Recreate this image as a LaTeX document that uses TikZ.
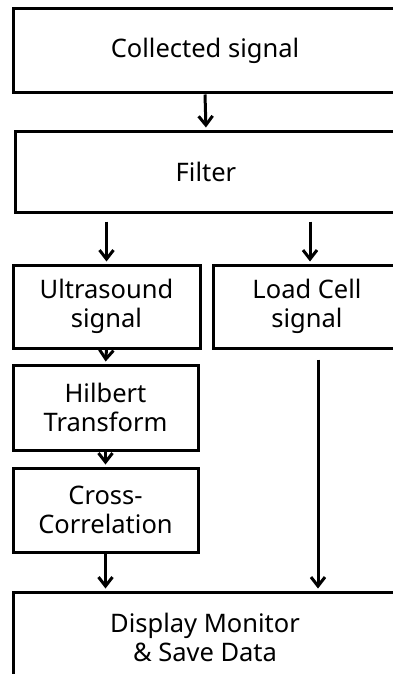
\documentclass[tikz,border=0pt]{standalone}
\usepackage{fontspec}
\setmainfont{Noto Sans}
\usepackage{tikz}
\usetikzlibrary{arrows.meta, positioning, calc}

\begin{document}
\begin{tikzpicture}[x=1pt, y=-1pt,
  box/.style={draw, line width=3pt, rectangle, align=center, inner sep=0pt,
    font=\fontsize{25.5}{29}\selectfont},
  arr/.style={line width=3pt, -{Straight Barb[length=9pt, width=14pt]}, shorten >=2pt}]
  \useasboundingbox (0,0) rectangle (393,674);
  \clip (0,0) rectangle (393,674);
  % main column
  \node[box, minimum width=384pt, minimum height=84pt] (collected) at (205,51) {Collected signal};
  \node[box, minimum width=382pt, minimum height=81pt] (filter) at (206,171.5) {Filter};
  % two branches
  \node[box, minimum width=187pt, minimum height=83pt] (ultra) at (106.5,306.5) {Ultrasound\\signal};
  \node[box, minimum width=188pt, minimum height=83pt] (load) at (307,306.5) {Load Cell\\signal};
  \node[box, minimum width=185pt, minimum height=85pt] (hilbert) at (105.5,407.5) {Hilbert\\Transform};
  \node[box, minimum width=185pt, minimum height=84pt] (cross) at (105.5,510) {Cross-\\Correlation};
  \node[box, minimum width=384pt, minimum height=90pt] (display) at (205,637) {Display Monitor\\\& Save Data};
  \coordinate (loadout) at ($(load.south)+(11,10)$);
  % connectors
  \draw[arr] (collected.south) -- (filter.north);
  \draw[arr, shorten <=8pt] (filter.south -| ultra) -- (ultra.north);
  \draw[arr, shorten <=8pt] ($(filter.south -| load)+(3,0)$) -- ($(load.north)+(3,0)$);
  \draw[arr] (ultra.south) -- (hilbert.north);
  \draw[arr] (hilbert.south) -- (cross.north);
  \draw[arr] (cross.south) -- (cross.south |- display.north);
  \draw[arr] (loadout) -- (loadout |- display.north);
\end{tikzpicture}
\end{document}
